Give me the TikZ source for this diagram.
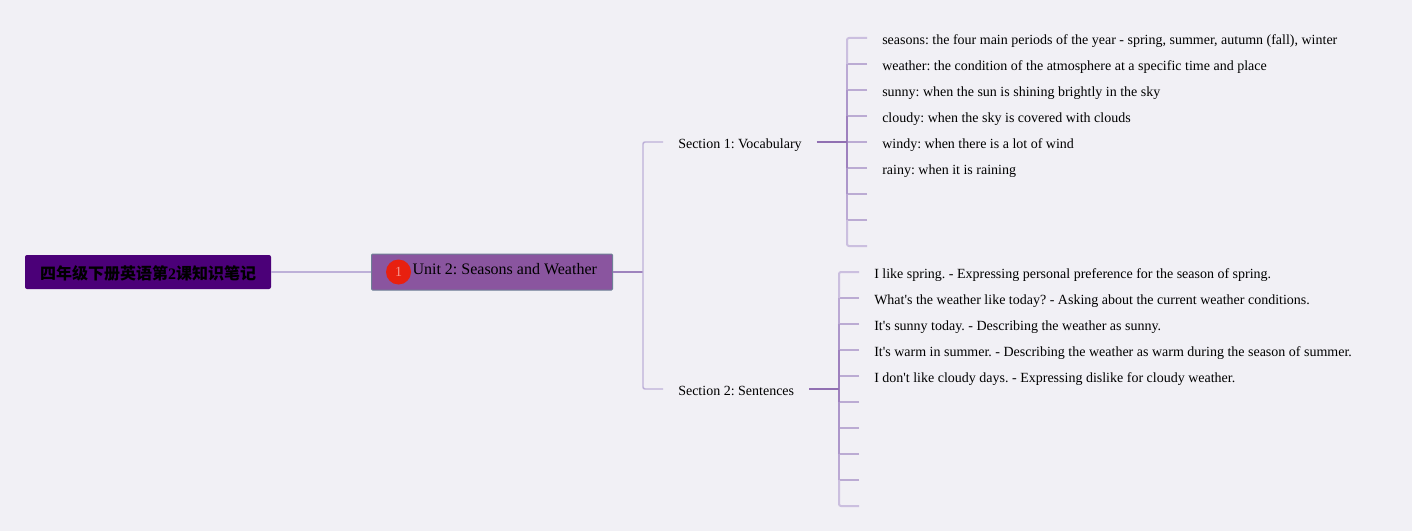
\documentclass[tikz,border=0pt]{standalone}
\usepackage{fontspec}
\usepackage{xcolor}
\setmainfont{Liberation Serif}[Ligatures=TeXOff]
\newfontfamily\cjkfont{Noto Sans CJK SC}
\definecolor{pagebg}{HTML}{F1F0F5}
\definecolor{rootfill}{HTML}{4B0078}
\definecolor{unitfill}{HTML}{8A559F}
\definecolor{unitline}{HTML}{6F8096}
\definecolor{badgered}{HTML}{E8200F}
\definecolor{stemlight}{HTML}{BDB0D8}
\definecolor{stubline}{HTML}{BBABD3}
\definecolor{trunkdark}{HTML}{9170B2}
\definecolor{spineA}{HTML}{CBBFDF}
\definecolor{spineB}{HTML}{BBA9D4}
\definecolor{spineC}{HTML}{AC96CA}
\definecolor{spineD}{HTML}{9E80BE}
\tikzset{
    rootbox/.style={fill=rootfill, rounded corners=1.5pt, minimum width=184.5pt, minimum height=25.5pt, inner sep=0pt, text height=12pt, text depth=1.5pt, font=\fontsize{12}{14}\selectfont\bfseries},
    unitbox/.style={fill=unitfill, draw=unitline, line width=0.75pt, rounded corners=0.75pt, inner xsep=0pt, inner ysep=4.5pt, text height=10.5pt, text depth=7.5pt, font=\fontsize{12}{14}\selectfont\frenchspacing},
    badge/.style={circle, fill=badgered, text=white!55!badgered, minimum size=18.75pt, inner sep=0pt, font=\fontsize{10.5}{12}\selectfont},
    section/.style={anchor=west, inner xsep=11.25pt, inner ysep=0pt, text height=11.25pt, text depth=2.25pt, font=\fontsize{10.5}{12}\selectfont\frenchspacing},
    leaf/.style={section},
    vocleaf/.style={section, text height=12pt, text depth=2.25pt},
    conn/.style={stemlight, line width=1.1pt},
    trunk/.style={trunkdark, line width=1.5pt},
    stub/.style={stubline, line width=1.1pt},
    spine/.style={line width=1.5pt}
}
\begin{document}
\begin{tikzpicture}[x=0.75pt, y=-0.75pt]
    \useasboundingbox (0, 0) rectangle (1412, 531);
    \fill[pagebg] (0, 0) rectangle (1412, 531);
    % main line
    \node[rootbox] (root) at (148, 272) {{\cjkfont 四年级下册英语第}2{\cjkfont 课知识笔记}};
    \node[unitbox, anchor=west] (unit) at (371, 272) {\hspace*{30.75pt}\makebox[137.25pt][l]{Unit 2: Seasons and Weather}\hspace*{12.75pt}};
    \node[badge] (badge1) at (398.5, 272) {1};
    \node[section] (sec1) at (663, 142) {Section 1: Vocabulary};
    \node[section] (sec2) at (663, 389) {Section 2: Sentences};
    \coordinate (fork) at (643, 272);
    \draw[conn] (root.east) -- (unit.west);
    \draw[conn, trunkdark!70!stemlight] (unit.east) -- (fork);
    \draw[conn, rounded corners=1.5pt] (sec1.west) -- (643, 142) -- (643, 389) -- (sec2.west);
    % section 1
    \node[vocleaf] (voc1) at (867, 38) {seasons: the four main periods of the year - spring, summer, autumn (fall), winter};
    \node[vocleaf] (voc2) at (867, 64) {weather: the condition of the atmosphere at a specific time and place};
    \node[vocleaf] (voc3) at (867, 90) {sunny: when the sun is shining brightly in the sky};
    \node[vocleaf] (voc4) at (867, 116) {cloudy: when the sky is covered with clouds};
    \node[leaf] (voc5) at (867, 142) {windy: when there is a lot of wind};
    \node[vocleaf] (voc6) at (867, 168) {rainy: when it is raining};
    \coordinate (voc7) at (867, 194);
    \coordinate (voc8) at (867, 220);
    \coordinate (voc9) at (867, 246);
    \draw[stub] (voc2.west) -- (847, 64);
    \draw[stub] (voc3.west) -- (847, 90);
    \draw[stub] (voc4.west) -- (847, 116);
    \draw[stub] (voc5.west) -- (847, 142);
    \draw[stub] (voc6.west) -- (847, 168);
    \draw[stub] (voc7) -- (847, 194);
    \draw[stub] (voc8) -- (847, 220);
    \draw[spine, spineA, rounded corners=1.5pt] (voc1.west) -- (847, 38) -- (847, 64);
    \draw[spine, spineB] (847, 64) -- (847, 90);
    \draw[spine, spineC] (847, 90) -- (847, 116);
    \draw[spine, spineD] (847, 116) -- (847, 142);
    \draw[spine, spineD] (847, 142) -- (847, 168);
    \draw[spine, spineC] (847, 168) -- (847, 194);
    \draw[spine, spineB] (847, 194) -- (847, 220);
    \draw[spine, spineA, rounded corners=1.5pt] (847, 220) -- (847, 246) -- (voc9);
    \draw[trunk] (sec1.east) -- (847, 142);
    % section 2
    \node[leaf] (sen1) at (859, 272) {I like spring. - Expressing personal preference for the season of spring.};
    \node[leaf] (sen2) at (859, 298) {What's the weather like today? - Asking about the current weather conditions.};
    \node[leaf] (sen3) at (859, 324) {It's sunny today. - Describing the weather as sunny.};
    \node[leaf] (sen4) at (859, 350) {It's warm in summer. - Describing the weather as warm during the season of summer.};
    \node[leaf] (sen5) at (859, 376) {I don't like cloudy days. - Expressing dislike for cloudy weather.};
    \coordinate (sen6) at (859, 402);
    \coordinate (sen7) at (859, 428);
    \coordinate (sen8) at (859, 454);
    \coordinate (sen9) at (859, 480);
    \coordinate (sen10) at (859, 506);
    \draw[stub] (sen2.west) -- (839, 298);
    \draw[stub] (sen3.west) -- (839, 324);
    \draw[stub] (sen4.west) -- (839, 350);
    \draw[stub] (sen5.west) -- (839, 376);
    \draw[stub] (sen6) -- (839, 402);
    \draw[stub] (sen7) -- (839, 428);
    \draw[stub] (sen8) -- (839, 454);
    \draw[stub] (sen9) -- (839, 480);
    \draw[spine, spineA, rounded corners=1.5pt] (sen1.west) -- (839, 272) -- (839, 298);
    \draw[spine, spineB] (839, 298) -- (839, 324);
    \draw[spine, spineC] (839, 324) -- (839, 350);
    \draw[spine, spineD] (839, 350) -- (839, 376);
    \draw[spine, spineD] (839, 376) -- (839, 402);
    \draw[spine, spineC] (839, 402) -- (839, 428);
    \draw[spine, spineC] (839, 428) -- (839, 454);
    \draw[spine, spineB] (839, 454) -- (839, 480);
    \draw[spine, spineA, rounded corners=1.5pt] (839, 480) -- (839, 506) -- (sen10);
    \draw[trunk] (sec2.east) -- (839, 389);
\end{tikzpicture}
\end{document}
